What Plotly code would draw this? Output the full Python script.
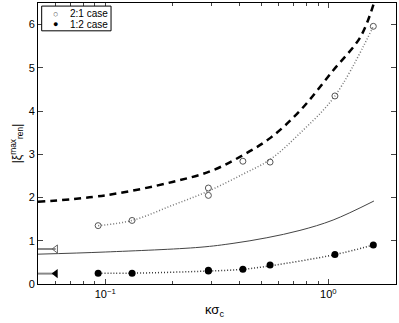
import plotly.graph_objects as go

# measured points
k_pts = [0.093, 0.132, 0.29, 0.29, 0.414, 0.548, 1.07, 1.59]
xi_21 = [1.35, 1.47, 2.05, 2.22, 2.84, 2.82, 4.35, 5.96]
xi_12 = [0.25, 0.25, 0.30, 0.32, 0.34, 0.44, 0.68, 0.90]

# dotted guide curves through the points
k_fit21 = [0.093, 0.132, 0.2, 0.29, 0.414, 0.548, 0.75, 1.07, 1.59]
xi_fit21 = [1.35, 1.47, 1.82, 2.15, 2.54, 2.88, 3.5, 4.35, 5.96]
k_fit12 = [0.093, 0.132, 0.29, 0.414, 0.548, 1.07, 1.59]
xi_fit12 = [0.25, 0.25, 0.30, 0.34, 0.42, 0.68, 0.90]

# theory curves
k_dash = [0.05, 0.1, 0.2, 0.3, 0.414, 0.55, 0.75, 1.05, 1.39, 1.6]
xi_dash = [1.90, 2.05, 2.36, 2.62, 2.98, 3.38, 4.02, 4.94, 5.71, 6.5]
k_solid = [0.05, 0.1, 0.266, 0.374, 0.53, 0.746, 1.05, 1.6]
xi_solid = [0.69, 0.74, 0.85, 0.94, 1.07, 1.24, 1.48, 1.92]

# limiting values at small kappa
k_lim = [0.05, 0.06]
xi_lim21 = [0.81, 0.81]
xi_lim12 = [0.24, 0.24]

legend_labels = ['2:1 case', '1:2 case']

fig = go.Figure()

fig.add_trace(go.Scatter(x=k_dash, y=xi_dash, mode='lines', showlegend=False,
                         line=dict(color='black', width=2.5, dash='7px,5px',
                                   shape='spline', smoothing=1.0)))
fig.add_trace(go.Scatter(x=k_solid, y=xi_solid, mode='lines', showlegend=False,
                         line=dict(color='#444', width=1, shape='spline', smoothing=1.0)))
fig.add_trace(go.Scatter(x=k_fit21, y=xi_fit21, mode='lines', showlegend=False,
                         line=dict(color='#777', width=1.5, dash='1px,2px',
                                   shape='spline', smoothing=1.0)))
fig.add_trace(go.Scatter(x=k_fit12, y=xi_fit12, mode='lines', showlegend=False,
                         line=dict(color='#333', width=1.5, dash='1px,2px',
                                   shape='spline', smoothing=1.0)))

fig.add_trace(go.Scatter(x=k_pts, y=xi_21, mode='markers', name=legend_labels[0],
                         showlegend=False,
                         marker=dict(symbol='circle-open', size=6, color='#555',
                                     line=dict(width=1))))
fig.add_trace(go.Scatter(x=k_pts, y=xi_12, mode='markers', name=legend_labels[1],
                         showlegend=False,
                         marker=dict(symbol='circle', size=7, color='black')))

fig.add_trace(go.Scatter(x=k_lim, y=xi_lim21, mode='lines+markers', showlegend=False,
                         cliponaxis=False, line=dict(color='#888', width=2),
                         marker=dict(symbol=['circle-open', 'triangle-left-open'], size=7,
                                     color='#666', line=dict(width=1))))
fig.add_trace(go.Scatter(x=k_lim, y=xi_lim12, mode='lines+markers', showlegend=False,
                         cliponaxis=False, line=dict(color='#888', width=2),
                         marker=dict(symbol='triangle-left', size=8, color='black')))

minor_vals = [0.06, 0.07, 0.08, 0.09, 0.2, 0.3, 0.4, 0.5, 0.6, 0.7, 0.8, 0.9, 2]

# hand-made compact legend box (MATLAB style)
leg_annots = [
    dict(text='○', x=0.0475, y=0.961, font=dict(size=9, color='#555')),
    dict(text='●', x=0.0475, y=0.924, font=dict(size=9, color='black')),
    dict(text=legend_labels[0], x=0.084, y=0.961, xanchor='left', font=dict(size=10)),
    dict(text=legend_labels[1], x=0.084, y=0.924, xanchor='left', font=dict(size=10)),
]
for a in leg_annots:
    a.update(xref='paper', yref='paper', showarrow=False, yanchor='middle')
    a.setdefault('xanchor', 'center')

fig.update_layout(
    width=399, height=323,
    margin=dict(l=38, r=3, t=3, b=39),
    plot_bgcolor='white', paper_bgcolor='white',
    font=dict(family='Liberation Sans, Arial', size=11, color='black'),
    showlegend=False,
    xaxis=dict(type='log', range=[-1.301, 0.303],
               tickvals=[0.1, 1], ticktext=['10<sup>−1</sup>', '10<sup>0</sup>'],
               ticks='inside', ticklen=5, showgrid=False, zeroline=False,
               showline=True, linecolor='black', linewidth=1, mirror='ticks',
               minor=dict(tickmode='array', tickvals=minor_vals, ticks='inside',
                          ticklen=3, showgrid=False)),
    yaxis=dict(range=[0, 6.5], tickvals=[0, 1, 2, 3, 4, 5, 6],
               ticks='inside', ticklen=5, showgrid=False, zeroline=False,
               showline=True, linecolor='black', linewidth=1, mirror='ticks',
               title=dict(text='|ξ<sup>max</sup><sub>ren</sub>|', standoff=4,
                          font=dict(size=12))),
    shapes=[dict(type='rect', xref='paper', yref='paper',
                 x0=0.0103, x1=0.204, y0=0.901, y1=0.989,
                 line=dict(color='black', width=1), fillcolor='white', layer='above')],
    annotations=[dict(text='κσ<sub>c</sub>', xref='paper', yref='paper',
                      x=0.494, y=-0.095, xanchor='center', yanchor='middle',
                      showarrow=False, font=dict(size=13))] + leg_annots,
)

fig.write_html("out.html", config={'displayModeBar': False},
               post_script="document.body.style.margin='0';")
